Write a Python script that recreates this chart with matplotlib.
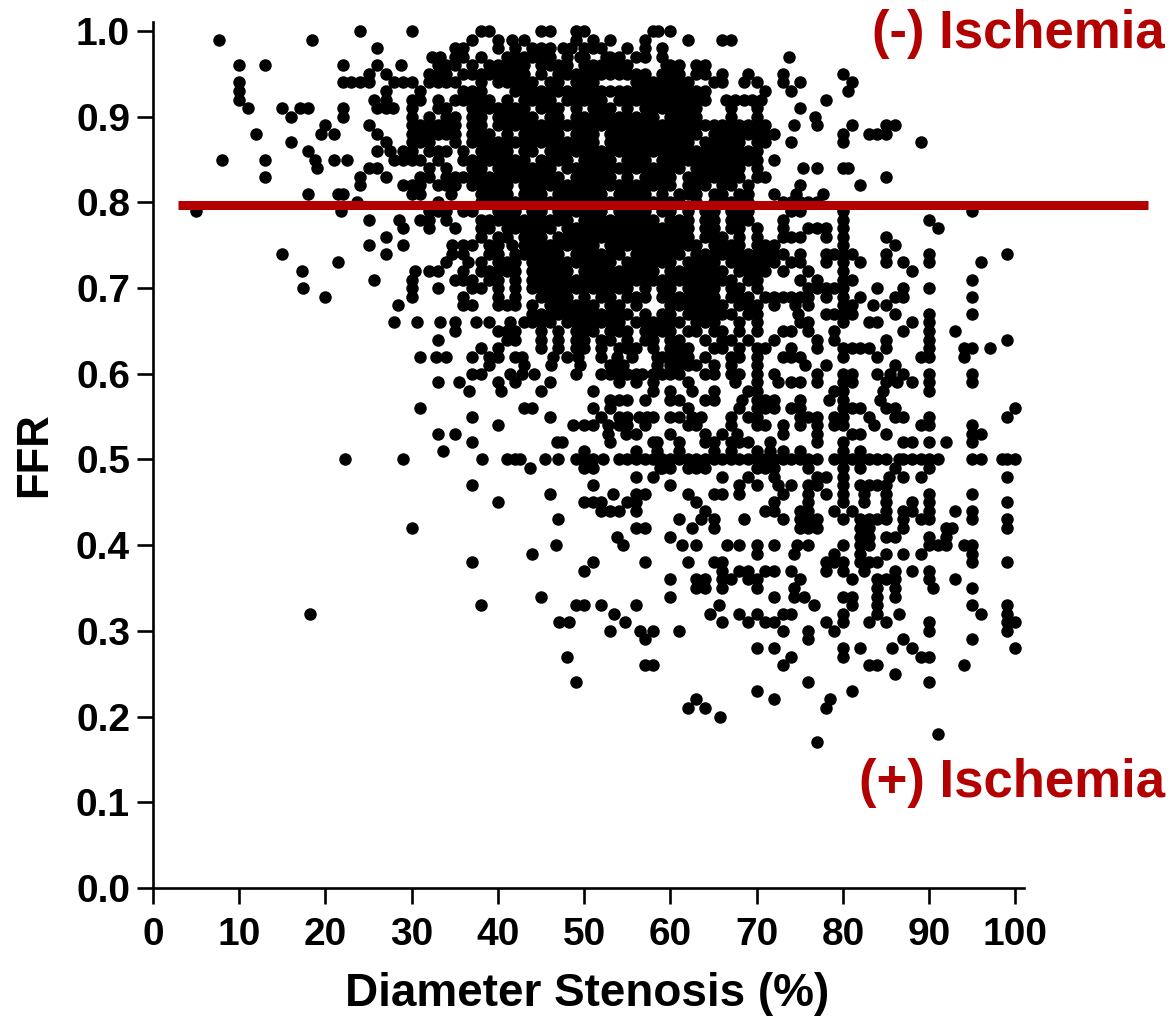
import matplotlib
matplotlib.use('Agg')
import matplotlib.pyplot as plt

# stenosis values, one list per FFR level
s100 = [24, 30, 38, 39, 45, 46, 49, 50, 58, 58.6, 60]
s99 = [7.7, 18.4, 37, 40, 41.6, 43, 49, 51, 53, 57, 62, 66, 67]
s98 = [26, 35, 36, 40, 42, 44, 45, 46, 47.5, 48.5, 50, 51, 52, 55, 57, 59]
s97 = [32.3, 33.3, 35, 36, 38, 41, 42, 43, 44, 45, 46, 48, 49.5, 50, 52.5, 53, 54, 56, 57, 59, 73.7]
s96 = [10, 13, 22, 26, 28.8, 33, 34, 35, 37, 39, 40, 41, 42, 43, 45, 46, 47, 48, 50, 51, 52, 53, 54, 55, 59.5, 60, 61, 63, 64]
s95 = [25, 27, 32, 33, 34, 36, 37, 38, 39, 40, 41, 42, 43, 45, 47, 48, 49, 50, 51, 52, 53, 54, 55, 56, 57, 59, 60, 61, 63, 64, 66, 69, 73, 80]
s94 = [10, 22, 23, 24, 25, 28, 29, 30, 32, 33, 34, 35, 38, 40, 41, 42, 43, 44, 46, 47, 49, 50, 51, 56, 57, 58, 59, 60, 61, 62, 65, 66, 68.5, 70, 73, 75, 81]
s93 = [10, 27, 31, 36, 37, 38, 42, 43, 44, 45, 46, 47, 48, 49, 50, 51, 52, 53, 54, 55, 56, 57, 58, 59, 60, 61, 62, 63, 64, 71, 74, 80.6]
s92 = [10, 25.6, 27, 30, 31, 33, 35, 36, 37, 38, 39, 41, 43, 44, 45, 46, 48, 49, 50, 51, 52, 54, 55, 56, 57, 58, 59, 60, 61, 62, 63, 64, 66.5, 67.5, 68.5, 69.5, 70.5, 78]
s91 = [11, 15, 17, 18, 22, 26, 27, 27.8, 30, 33, 34, 37, 38, 39, 40, 41, 42, 43, 45, 46, 47, 49, 51, 52, 53, 55, 57, 58, 59, 60, 61, 62, 63, 67, 70, 75]
s90 = [16, 22, 30, 32, 34, 35, 37, 38, 40, 41, 42, 43, 44, 46, 47, 49, 50, 51, 52, 53, 54, 55, 56, 57, 58, 60, 61, 62, 63, 67, 70, 76.8]
s89 = [20, 25, 30, 31, 32, 33, 34, 35, 37, 38, 40, 41, 42, 43, 44, 45, 46, 47, 48, 49, 50, 51, 52, 53, 54, 55, 56, 57, 58, 59, 60, 61, 62, 63, 64, 65, 66, 67, 68, 69, 70, 71, 74.3, 77, 81, 85, 86]
s88 = [12, 19.5, 21, 26, 30, 31, 32, 33, 34, 35, 37, 38, 39, 41, 43, 44, 45, 46, 47, 49, 50, 51, 53, 54, 55, 56, 57, 58, 59, 60, 61, 62, 63, 65, 66, 67, 68, 69, 70, 71, 72, 80, 83, 84, 85]
s87 = [16, 27, 30, 31, 32, 35, 37, 38, 39, 40, 41, 42, 43, 44, 45, 46, 47, 48, 49, 50, 51, 53, 54, 55, 56, 57, 58, 59, 60, 61, 62, 64, 65, 66, 67, 68, 70, 71, 74, 80, 89]
s86 = [18, 26, 27.5, 29, 30, 32, 33, 34, 36, 38, 39, 40, 41, 43, 44, 46, 47, 48, 49, 50, 51, 52, 53, 54, 55, 56, 57, 58, 59, 60, 61, 62, 63, 64, 65, 66, 67, 68, 69, 70]
s85 = [8, 13, 18.8, 21, 22.5, 28, 29, 30, 31, 33, 36, 37, 38, 39, 40, 41, 42, 43, 45, 46, 47, 48, 50, 51, 52, 53, 55, 56, 57, 59, 60, 61, 62, 63, 64, 65, 66, 67, 68, 69, 70, 72]
s84 = [19, 25, 26, 32, 34, 37, 38, 40, 41, 42, 43, 44, 45, 46, 48, 49, 50, 51, 52, 53, 54, 55, 56, 57, 58, 59, 60, 61, 63, 64, 65, 66, 67, 68, 70, 75.4, 77, 80, 80.6]
s83 = [13, 24, 27, 31, 32, 34, 35, 36, 37, 38, 39, 40, 41, 42, 43, 44, 45, 46, 47, 49, 50, 51, 52, 53, 55, 57, 58, 59, 60, 62, 63, 64, 65, 66, 67, 68, 70, 71, 85]
s82 = [24, 29, 30, 31, 33, 34, 35, 37, 38, 39, 40, 41, 43, 44, 45, 46, 47, 48, 49, 50, 51, 52, 53, 54, 55, 56, 57, 58, 59, 60, 62, 63, 64, 66, 67, 69, 75, 82]
s81 = [18, 21.5, 22, 30, 31, 34.5, 38, 39, 40, 41, 43, 44, 45, 47, 48, 49, 50, 51, 52, 54, 55, 56, 57, 59, 61, 62, 63, 65, 66, 68, 69, 72, 74.6, 77.7]
s80 = [23.7, 33, 38, 39, 40, 41, 42, 43, 44, 45, 46, 47, 48, 49, 50, 51, 52, 53, 54, 55, 56, 57, 58, 59, 60, 61, 63, 65, 66, 67, 68, 69, 73, 74, 75, 76, 77]
s79 = [5, 21.8, 32, 33, 34, 36, 37, 40, 41, 42, 44, 45, 47, 48, 49, 50, 51, 52, 54, 55, 56, 57, 59, 60, 62, 64, 65, 67, 68, 69, 74, 75, 80, 95]
s78 = [25, 28.5, 31, 32, 34, 38, 39, 40, 41, 42, 43, 44, 45, 46, 47, 48, 50, 51, 52, 53, 54, 55, 56, 57, 58, 60, 61, 62, 64, 65, 67, 68, 69, 73, 80, 90]
s77 = [29, 32, 35, 38, 39, 41, 42, 43, 44, 45, 46, 48, 49, 50, 51, 52, 53, 54, 55, 56, 57, 58, 59, 60, 61, 62, 64, 65, 67, 68, 70, 73, 76, 77, 78, 80, 91]
s76 = [27, 38, 40, 41, 43, 44, 45, 47, 48, 49, 50, 51, 52, 53, 54, 55, 56, 57, 58, 59, 60, 61, 62, 64, 65, 66, 68, 70, 73, 74, 75, 78, 80, 85]
s75 = [25, 29, 34.7, 36, 37, 39, 40, 41.6, 43, 44, 45, 46, 47, 48, 49, 50, 51, 53, 54, 55, 56, 57, 58, 59, 60, 61, 62, 63, 65, 66, 67, 68, 70, 71, 72, 80, 86]
s74 = [15, 27, 34.7, 36, 39, 40, 42, 43, 44, 45, 46, 47, 49, 50, 51, 52, 53, 54, 56, 57, 58, 59, 60, 61, 63, 64, 65, 66, 67, 68, 69, 70, 71, 72, 73, 75, 78, 79, 80, 81, 85, 90, 99]
s73 = [21.4, 34, 36.5, 38, 40, 41, 42, 44, 45, 46, 47, 48, 49, 50, 51, 52, 53, 55, 56, 57, 58, 59, 60, 62, 63, 64, 65, 67, 68, 69, 70, 71, 72, 74, 75, 78, 80, 82, 85, 87, 90, 96]
s72 = [17.3, 30.4, 32, 33, 36, 38, 39, 40, 41, 42, 44, 45, 46, 47, 48, 50, 51, 52, 53, 54, 55, 56, 57, 58, 60, 61, 62, 63, 64, 65, 66, 68, 69, 70, 71, 73, 76, 80, 88]
s71 = [25.6, 30, 35, 36, 37, 39, 40, 42, 44, 45, 46, 47, 48, 49, 50, 51, 52, 53, 54, 55, 56, 57, 58, 59, 60, 61, 62, 63, 64, 65, 66, 67, 69, 70, 75, 77, 80, 81, 95]
s70 = [17.4, 30, 33, 37, 38, 40, 42, 44, 45, 46, 47, 48, 49, 50, 51, 52, 53, 54, 55, 57, 59, 60, 62, 63, 64, 65, 67, 68, 70, 76, 77, 78, 79, 80, 84, 87, 90]
s69 = [20, 30, 36, 40, 42, 45, 46, 47, 48, 50, 52, 53, 55, 56, 57, 59, 60, 61, 62, 63, 64, 65, 67, 68, 69, 71, 72, 73, 74, 75, 76, 78, 80, 82, 86, 87, 95]
s68 = [28.4, 36, 37, 40, 41, 42, 44, 46, 47, 48, 49, 50, 51, 53, 54, 56, 60, 61, 62, 63, 64, 65, 66, 68, 69, 70, 72, 74.5, 76, 80, 81, 83.5, 85]
s67 = [44, 45, 46, 47, 48, 49, 50, 51, 52, 53, 54, 55, 57, 59, 60, 62, 63, 64, 65, 66, 67, 69, 70, 74.8, 78, 79, 80, 81, 86, 90, 95]
s66 = [28, 30.6, 33.3, 35, 37.5, 39, 41.4, 43, 44, 45, 46, 48, 49, 50, 51, 52, 53, 54, 56, 57, 58, 59, 60, 61, 63, 64, 65, 68, 70, 75, 76, 80, 83, 84, 88, 90]
s65 = [35, 40, 41, 42, 45, 47, 49, 50, 51, 53, 54, 55, 57, 58, 59, 60, 62, 63, 65, 66, 68, 70, 73, 74, 76, 79, 87, 90, 93]
s64 = [33, 41, 42, 45, 47, 49, 50, 52, 53, 55, 57, 58, 60, 61, 64, 66, 67, 69, 72, 77, 79, 85, 90, 99]
s63 = [38, 40, 45, 47, 49, 50, 52, 54, 55, 56, 58, 60, 61, 62, 65, 66, 68, 70, 71, 74, 77, 80, 81, 82, 83, 85, 90, 94, 95, 97]
s62 = [31, 32.8, 34, 37, 39, 40, 42, 42.8, 46.4, 48, 49.3, 52, 53.8, 55.5, 58.4, 59, 60, 61, 62, 64, 67, 68, 70, 73, 74, 75, 80, 84, 89, 90, 94]
s61 = [39, 43, 46.2, 49.5, 53, 53.8, 54.5, 58.4, 60, 61, 62, 63, 65, 67, 70, 75.6, 78, 86]
s60 = [37, 38, 41.4, 42.8, 44.2, 49, 52, 53, 54, 55, 56, 56.7, 58, 59, 60, 61, 64, 65, 67, 68, 70, 72, 77, 80, 81, 84, 85.5, 87, 90, 95]
s59 = [33, 35.5, 40, 42, 46, 54, 56, 58, 62, 67.5, 70, 72.5, 74, 75, 77, 80, 81, 85, 86.3, 88, 90, 95]
s58 = [36.7, 40.4, 45, 51, 58, 60, 62.5, 65, 69, 70, 79, 80, 84.7, 90]
s57 = [53, 54, 55, 57, 60, 61, 64, 65, 68.3, 70, 71, 72, 75, 78.4, 80, 84.3]
s56 = [31, 43, 44, 51, 53, 62, 68, 70, 71, 72, 74, 75, 80, 81, 82, 85, 86, 100]
s55 = [37, 46, 52, 54, 55, 56.3, 57.3, 58, 60, 61, 62.5, 63.5, 67, 69, 70, 75, 76, 77, 79, 80, 83, 86, 87, 90, 99]
s54 = [40, 48.7, 50, 51, 52.8, 54, 55, 57, 62, 63, 67, 70, 71, 73, 75, 77, 79, 80, 83.6, 89, 90, 95]
s53 = [33, 35, 52.8, 54.8, 56, 60, 64, 66, 67.7, 73, 77, 81, 82, 85, 95, 96]
s52 = [37, 46.8, 47.4, 53, 58, 58.5, 61, 64, 65, 67, 68, 69, 71.6, 77, 80, 87, 88, 90, 92, 95]
s51 = [33.6, 50, 56, 58.5, 61, 65, 67, 70, 71.6, 73, 75, 80, 82]
s50 = [22.3, 29, 38.2, 41, 42, 42.6, 45.5, 47, 49, 50, 51, 52.2, 54, 55, 56, 57, 58, 59, 60, 61, 62, 63, 64, 65, 66, 67, 68, 69, 70, 71, 72, 73, 74, 75, 76, 77, 79, 80, 81, 82, 83, 84, 85, 86.5, 87, 88, 89, 90, 91, 95, 96, 98.5, 99, 100]
s49 = [43.7, 50, 51, 58.8, 59, 60, 62, 63, 64, 70, 71, 72, 76, 80, 82, 86, 90]
s48 = [56, 58, 66, 69, 72, 77, 78, 80, 85.3, 87, 89, 99]
s47 = [37, 51, 60, 68, 70, 72.5, 74, 76, 77, 80, 82, 83, 84, 85]
s46 = [46, 53.3, 56, 57, 62, 65, 66, 68, 73, 76, 78, 80, 82.4, 85, 90, 95]
s45 = [40, 50, 51, 52, 55, 56, 63, 72, 76, 80, 82.4, 85, 88, 90, 99]
s44 = [52, 53, 54, 56, 64, 71, 72, 75, 76, 79, 81, 85, 87, 88, 90, 93, 95]
s43 = [47, 61, 63.5, 65, 68.5, 73, 75, 76, 77, 80, 82, 83, 84, 85, 87, 89, 90, 95, 99]
s42 = [30, 56, 57, 62.5, 65, 75, 76, 77, 82, 83, 87, 92, 92.7, 99]
s41 = [53.8, 60, 82, 83, 85, 86, 90, 92]
s40 = [46.7, 54.5, 61.3, 63, 66.6, 68, 70, 72, 74.7, 76, 80, 82, 83, 90, 91, 92, 94, 95]
s39 = [44, 70, 74.3, 79, 82, 85, 87, 89, 95]
s38 = [37, 51, 57, 62, 65, 66, 78, 79, 80, 82, 83, 84, 95, 99]
s37 = [50, 66, 68, 69, 71, 72, 74, 78, 80, 82.4, 86, 88, 90]
s36 = [60, 63, 64, 66, 67, 69, 70, 75, 81, 84, 85, 86, 90, 93]
s35 = [63, 64, 66, 70, 74.3, 84, 86, 90.5, 95]
s34 = [45, 60, 72, 74.3, 75.5, 80, 81, 84, 86]
s33 = [38, 49, 50, 52, 56, 65.6, 76.6, 81, 84, 95, 99]
s32 = [18.2, 53.5, 64.6, 68, 70, 73, 74, 80, 84, 86.5, 96, 99]
s31 = [47.1, 48.2, 54.7, 66, 69, 71, 72, 78, 80, 83, 85, 90, 99, 100]
s30 = [53, 56.5, 58, 61, 73, 76, 79, 90, 99]
s29 = [57, 76, 87, 95]
s28 = [70, 72, 80, 82, 85.7, 88, 100]
s27 = [48, 74, 80, 89, 90]
s26 = [57, 58, 73, 83, 84, 94]
s25 = [86]
s24 = [49, 76, 90]
s23 = [70, 81]
s22 = [63, 72, 78.5]
s21 = [62, 64, 78]
s20 = [65.7]
s18 = [91]
s17 = [77]

ffr_levels = [1.00, 0.99, 0.98, 0.97, 0.96, 0.95, 0.94, 0.93, 0.92, 0.91, 0.90, 0.89, 0.88, 0.87, 0.86, 0.85,
              0.84, 0.83, 0.82, 0.81, 0.80, 0.79, 0.78, 0.77, 0.76, 0.75, 0.74, 0.73, 0.72, 0.71, 0.70, 0.69,
              0.68, 0.67, 0.66, 0.65, 0.64, 0.63, 0.62, 0.61, 0.60, 0.59, 0.58, 0.57, 0.56, 0.55, 0.54, 0.53,
              0.52, 0.51, 0.50, 0.49, 0.48, 0.47, 0.46, 0.45, 0.44, 0.43, 0.42, 0.41, 0.40, 0.39, 0.38, 0.37,
              0.36, 0.35, 0.34, 0.33, 0.32, 0.31, 0.30, 0.29, 0.28, 0.27, 0.26, 0.25, 0.24, 0.23, 0.22, 0.21,
              0.20, 0.18, 0.17]
stenosis_rows = [s100, s99, s98, s97, s96, s95, s94, s93, s92, s91, s90, s89, s88, s87, s86, s85,
                 s84, s83, s82, s81, s80, s79, s78, s77, s76, s75, s74, s73, s72, s71, s70, s69,
                 s68, s67, s66, s65, s64, s63, s62, s61, s60, s59, s58, s57, s56, s55, s54, s53,
                 s52, s51, s50, s49, s48, s47, s46, s45, s44, s43, s42, s41, s40, s39, s38, s37,
                 s36, s35, s34, s33, s32, s31, s30, s29, s28, s27, s26, s25, s24, s23, s22, s21,
                 s20, s18, s17]

x_ticks = [0, 10, 20, 30, 40, 50, 60, 70, 80, 90, 100]
y_ticks = [0.0, 0.1, 0.2, 0.3, 0.4, 0.5, 0.6, 0.7, 0.8, 0.9, 1.0]
cutoff = 0.797
red = '#b30000'

plt.rcParams['font.family'] = ['Liberation Sans', 'DejaVu Sans']
plt.rcParams['font.weight'] = 'bold'

fig = plt.figure(figsize=(11.71, 10.17), dpi=100)
ax = fig.add_axes([153 / 1171, (1017 - 888) / 1017, 871 / 1171, 866 / 1017])

xs = []
ys = []
for level, row in zip(ffr_levels, stenosis_rows):
    xs += row
    ys += [level] * len(row)
ax.plot(xs, ys, 'o', color='black', ms=9.0, mew=0, clip_on=False, zorder=3)

ax.plot([2.9, 115.4], [cutoff, cutoff], color=red, lw=6.5, solid_capstyle='butt', clip_on=False, zorder=4)

ax.set_xlim(0, 101)
ax.set_ylim(0, 1.0105)
ax.set_xticks(x_ticks)
ax.set_yticks(y_ticks)
ax.set_yticklabels(['%.1f' % v for v in y_ticks])
ax.tick_params(axis='both', length=11.5, width=1.9, labelsize=28, pad=5)
ax.tick_params(axis='x', pad=9.5)
ax.spines['top'].set_visible(False)
ax.spines['right'].set_visible(False)
ax.spines['left'].set_linewidth(1.9)
ax.spines['bottom'].set_linewidth(1.9)

fig.text(587.5 / 1171, 1 - 1006 / 1017, 'Diameter Stenosis (%)', fontsize=33, ha='center', va='baseline')
fig.text(35 / 1171, 1 - 455 / 1017, 'FFR', fontsize=31.5, rotation=90, ha='center', va='center')
fig.text(1165 / 1171, 1 - 48 / 1017, '(-) Ischemia', fontsize=38, color=red, ha='right', va='baseline')
fig.text(1165 / 1171, 1 - 797 / 1017, '(+) Ischemia', fontsize=38, color=red, ha='right', va='baseline')

fig.savefig('out.png', dpi=100)
